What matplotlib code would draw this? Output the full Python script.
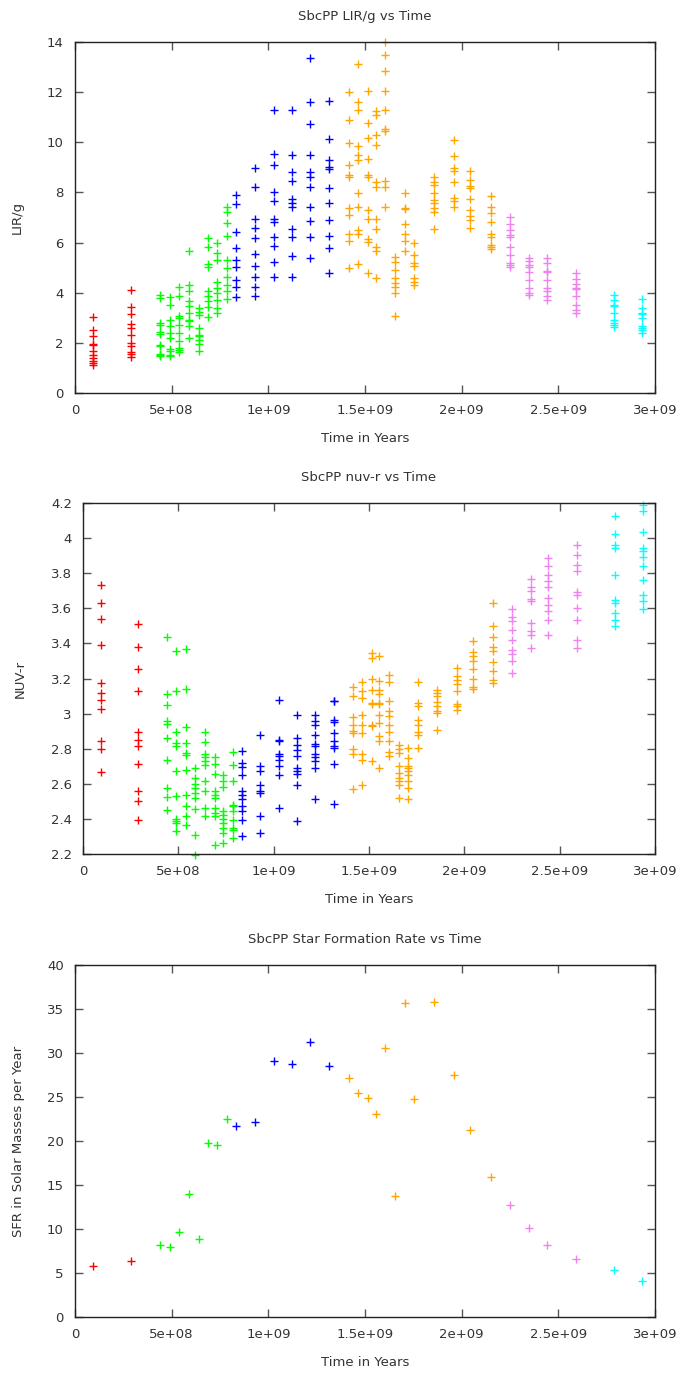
#Recreate the SbcPP gnuplot-style panels: LIR/g, nuv-r and SFR vs time

import matplotlib
matplotlib.use("Agg")
import matplotlib.pyplot as plt

#time of each snapshot (years)
times = [0.095e9, 0.29e9, 0.44e9, 0.49e9, 0.54e9, 0.59e9, 0.64e9, 0.69e9, 0.735e9, 0.785e9,
         0.835e9, 0.93e9, 1.03e9, 1.12e9, 1.215e9, 1.315e9,
         1.415e9, 1.465e9, 1.515e9, 1.555e9, 1.605e9, 1.655e9, 1.705e9, 1.755e9, 1.855e9, 1.96e9, 2.045e9, 2.15e9,
         2.25e9, 2.35e9, 2.44e9, 2.59e9,
         2.79e9, 2.935e9]

#colour of each snapshot group and how many snapshots it holds
group_colors = ["#ff0000", "#00ff00", "#0000ff", "#ffa500", "#ee82ee", "#00ffff"]
group_sizes = [2, 8, 6, 12, 4, 2]

#LIR/g values, one list per snapshot (several viewing angles)
lir = [
    [3.05, 2.5, 2.28, 1.95, 1.9, 1.66, 1.52, 1.39, 1.26, 1.19, 1.1],
    [4.11, 3.45, 3.14, 2.75, 2.6, 2.32, 1.99, 1.86, 1.62, 1.57, 1.43],
    [3.9, 3.8, 2.78, 2.7, 2.42, 2.36, 1.92, 1.87, 1.54, 1.5, 1.47],
    [3.82, 3.51, 2.92, 2.68, 2.39, 2.19, 1.75, 1.66, 1.53, 1.49],
    [4.22, 3.87, 3.08, 2.98, 2.72, 2.39, 2.06, 1.79, 1.72, 1.62],
    [5.66, 4.31, 4.05, 3.65, 3.47, 3.21, 2.92, 2.89, 2.68, 2.19],
    [3.38, 3.25, 3.12, 2.59, 2.32, 2.28, 2.1, 1.96, 1.66],
    [6.17, 5.84, 5.13, 5.04, 4.05, 3.85, 3.65, 3.42, 3.05],
    [5.97, 5.57, 5.31, 4.44, 4.18, 3.98, 3.71, 3.38, 3.21],
    [7.43, 7.23, 6.79, 6.26, 5.31, 5.0, 4.64, 4.31, 4.05, 3.74],
    [7.89, 7.53, 6.43, 5.77, 5.31, 5.04, 4.51, 4.22, 3.82],
    [8.99, 8.2, 6.96, 6.57, 6.17, 5.53, 5.07, 4.64, 4.24, 3.85],
    [11.3, 9.55, 9.11, 8.0, 7.65, 6.96, 6.83, 6.21, 5.86, 5.24, 4.64],
    [11.27, 9.51, 8.81, 8.46, 7.72, 7.56, 7.43, 6.53, 6.21, 5.46, 4.64],
    [13.37, 11.6, 10.72, 9.51, 8.82, 8.62, 8.22, 7.4, 6.86, 6.23, 5.37],
    [11.64, 10.15, 9.28, 9.02, 8.95, 8.16, 7.56, 6.9, 6.26, 5.77, 4.8],
    [12.0, 10.9, 9.97, 9.08, 8.69, 8.62, 7.36, 7.1, 6.34, 6.07, 4.97],
    [13.13, 11.6, 11.3, 9.84, 9.48, 9.31, 7.96, 7.43, 6.5, 6.34, 5.15],
    [12.04, 10.78, 10.19, 9.35, 8.69, 8.62, 7.29, 6.96, 6.13, 6.03, 4.77],
    [11.23, 11.07, 10.28, 9.88, 8.42, 8.22, 6.96, 6.56, 5.81, 5.68, 4.58],
    [13.99, 13.5, 12.84, 12.04, 11.27, 10.54, 10.45, 8.46, 8.2, 7.4],
    [5.44, 5.24, 4.91, 4.58, 4.38, 4.22, 3.98, 3.08],
    [7.98, 7.36, 7.32, 6.74, 6.34, 6.07, 5.68],
    [5.99, 5.5, 5.17, 5.07, 4.58, 4.44, 4.31],
    [8.62, 8.42, 8.29, 7.96, 7.69, 7.56, 7.36, 7.23, 6.53],
    [10.1, 9.44, 8.99, 8.86, 8.4, 7.76, 7.67, 7.43],
    [8.86, 8.51, 8.25, 8.16, 7.72, 7.29, 7.06, 6.9, 6.6],
    [7.86, 7.43, 7.16, 6.83, 6.34, 6.23, 5.9, 5.81, 5.73],
    [7.03, 6.76, 6.5, 6.3, 6.23, 5.84, 5.5, 5.2, 5.11, 5.01],
    [5.4, 5.28, 5.11, 5.04, 4.84, 4.51, 4.18, 3.98, 3.91],
    [5.37, 5.2, 4.88, 4.84, 4.51, 4.18, 4.08, 3.87, 3.71],
    [4.77, 4.54, 4.35, 4.18, 4.14, 3.85, 3.51, 3.32, 3.18],
    [3.91, 3.71, 3.51, 3.47, 3.18, 2.92, 2.79, 2.72, 2.65],
    [3.74, 3.38, 3.21, 3.16, 2.98, 2.68, 2.59, 2.52, 2.39],
]

#NUV-r colour, one list per snapshot
nuvr = [
    [3.735, 3.63, 3.539, 3.389, 3.174, 3.117, 3.079, 3.028, 2.842, 2.8, 2.667],
    [3.51, 3.378, 3.254, 3.131, 2.895, 2.848, 2.813, 2.713, 2.561, 2.5, 2.392],
    [3.435, 3.112, 3.051, 2.956, 2.941, 2.861, 2.738, 2.576, 2.523, 2.453],
    [3.355, 3.131, 2.895, 2.832, 2.813, 2.671, 2.529, 2.401, 2.386, 2.377, 2.333],
    [3.37, 3.142, 2.924, 2.832, 2.775, 2.765, 2.68, 2.538, 2.472, 2.415, 2.367],
    [2.69, 2.633, 2.599, 2.576, 2.548, 2.519, 2.458, 2.31, 2.195],
    [2.895, 2.838, 2.77, 2.751, 2.728, 2.705, 2.618, 2.557, 2.462, 2.415],
    [2.751, 2.713, 2.656, 2.557, 2.538, 2.519, 2.462, 2.434, 2.415, 2.249],
    [2.648, 2.618, 2.58, 2.447, 2.42, 2.401, 2.377, 2.348, 2.32, 2.263],
    [2.781, 2.705, 2.614, 2.481, 2.472, 2.443, 2.396, 2.348, 2.339, 2.291],
    [2.789, 2.718, 2.694, 2.652, 2.557, 2.538, 2.515, 2.472, 2.443, 2.396, 2.3],
    [2.88, 2.7, 2.671, 2.595, 2.561, 2.548, 2.415, 2.32],
    [3.079, 2.851, 2.842, 2.77, 2.757, 2.738, 2.7, 2.652, 2.462],
    [2.994, 2.861, 2.819, 2.795, 2.757, 2.69, 2.675, 2.656, 2.591, 2.39],
    [2.994, 2.956, 2.933, 2.88, 2.827, 2.813, 2.77, 2.751, 2.732, 2.69, 2.515],
    [3.074, 3.07, 2.965, 2.952, 2.889, 2.846, 2.813, 2.804, 2.713, 2.485],
    [3.15, 3.098, 2.979, 2.937, 2.903, 2.889, 2.8, 2.77, 2.572],
    [3.18, 3.131, 3.089, 2.994, 2.933, 2.889, 2.77, 2.738, 2.591],
    [3.345, 3.317, 3.2, 3.136, 3.06, 3.055, 2.937, 2.927, 2.728],
    [3.326, 3.188, 3.136, 3.112, 3.06, 3.055, 2.99, 2.946, 2.87, 2.842, 2.69],
    [3.222, 3.18, 3.07, 3.017, 2.984, 2.937, 2.895, 2.846, 2.781, 2.757],
    [2.823, 2.8, 2.776, 2.7, 2.662, 2.633, 2.618, 2.595, 2.519],
    [2.804, 2.747, 2.7, 2.69, 2.671, 2.648, 2.614, 2.576, 2.515],
    [3.18, 3.06, 3.041, 2.965, 2.937, 2.895, 2.88, 2.804],
    [3.136, 3.117, 3.098, 3.066, 3.041, 3.013, 3.003, 2.908],
    [3.26, 3.212, 3.193, 3.169, 3.131, 3.055, 3.041, 3.022],
    [3.416, 3.351, 3.326, 3.298, 3.256, 3.199, 3.15, 3.142],
    [3.63, 3.497, 3.435, 3.378, 3.355, 3.294, 3.241, 3.193, 3.174],
    [3.598, 3.549, 3.526, 3.478, 3.418, 3.364, 3.34, 3.298, 3.231],
    [3.769, 3.719, 3.697, 3.655, 3.64, 3.516, 3.473, 3.45, 3.374],
    [3.887, 3.839, 3.792, 3.757, 3.719, 3.659, 3.621, 3.583, 3.535, 3.45],
    [3.959, 3.902, 3.845, 3.811, 3.693, 3.674, 3.602, 3.535, 3.421, 3.374],
    [4.124, 4.023, 3.963, 3.944, 3.792, 3.649, 3.63, 3.573, 3.535, 3.497],
    [4.187, 4.156, 4.035, 3.944, 3.928, 3.89, 3.839, 3.763, 3.678, 3.643, 3.598],
]

#star formation rate, one value per snapshot
sfr = [5.8, 6.4, 8.2, 8.0, 9.7, 14.0, 8.9, 19.8, 19.6, 22.5,
       21.7, 22.2, 29.1, 28.8, 31.3, 28.5,
       27.2, 25.4, 24.9, 23.1, 30.6, 13.7, 35.7, 24.8, 35.8, 27.5, 21.3, 15.9,
       12.7, 10.1, 8.2, 6.6,
       5.3, 4.1]

xticks = [0, 5e8, 1e9, 1.5e9, 2e9, 2.5e9, 3e9]
xticklabels = ["0", "5e+08", "1e+09", "1.5e+09", "2e+09", "2.5e+09", "3e+09"]

#one colour per snapshot
colors = []
for c, n in zip(group_colors, group_sizes):
    colors += [c] * n

W, H = 682, 1374
fig = plt.figure(figsize=(W / 100, H / 100), dpi=100)
txt = "#333333"
fs = 9.5


def setup(ax, title, ylabel, ylim, yticks, yticklabels, ylab_x):
    ax.set_xlim(0, 3e9)
    ax.set_ylim(*ylim)
    ax.set_xticks(xticks)
    ax.set_xticklabels(xticklabels)
    ax.set_yticks(yticks)
    ax.set_yticklabels(yticklabels)
    ax.tick_params(direction="in", top=True, right=True, length=6, width=1,
                   labelsize=fs, colors="#555555", labelcolor=txt, pad=8)
    for s in ax.spines.values():
        s.set_color("#222222")
        s.set_linewidth(1)
    ax.set_title(title, fontsize=fs, color=txt, pad=16)
    ax.set_xlabel("Time in Years", fontsize=fs, color=txt)
    ax.xaxis.set_label_coords(0.5, -0.112)
    ax.set_ylabel(ylabel, fontsize=fs, color=txt)
    ax.yaxis.set_label_coords(ylab_x, 0.5)


def px_axes(left, top, right, bottom):
    return fig.add_axes([left / W, 1 - bottom / H, (right - left) / W, (bottom - top) / H])


#panel 1: LIR/g
ax1 = px_axes(75, 42, 655, 393)
for t, vals, c in zip(times, lir, colors):
    ax1.plot([t] * len(vals), vals, linestyle="none", marker="+", color=c,
             markersize=6, markeredgewidth=1, clip_on=False)
setup(ax1, "SbcPP LIR/g vs Time", "LIR/g", (0, 14), list(range(0, 15, 2)),
      [str(v) for v in range(0, 15, 2)], -0.088)

#panel 2: NUV-r
ax2 = px_axes(83, 503, 655, 854)
for t, vals, c in zip(times, nuvr, colors):
    ax2.plot([t] * len(vals), vals, linestyle="none", marker="+", color=c,
             markersize=6, markeredgewidth=1, clip_on=False)
nticks = [2.2, 2.4, 2.6, 2.8, 3.0, 3.2, 3.4, 3.6, 3.8, 4.0, 4.2]
setup(ax2, "SbcPP nuv-r vs Time", "NUV-r", (2.2, 4.2), nticks,
      ["2.2", "2.4", "2.6", "2.8", "3", "3.2", "3.4", "3.6", "3.8", "4", "4.2"], -0.098)

#panel 3: SFR
ax3 = px_axes(75, 965, 655, 1317)
for t, v, c in zip(times, sfr, colors):
    ax3.plot([t], [v], linestyle="none", marker="+", color=c,
             markersize=6, markeredgewidth=1)
setup(ax3, "SbcPP Star Formation Rate vs Time", "SFR in Solar Masses per Year", (0, 40),
      list(range(0, 41, 5)), [str(v) for v in range(0, 41, 5)], -0.086)

plt.savefig("out.png", dpi=100)
